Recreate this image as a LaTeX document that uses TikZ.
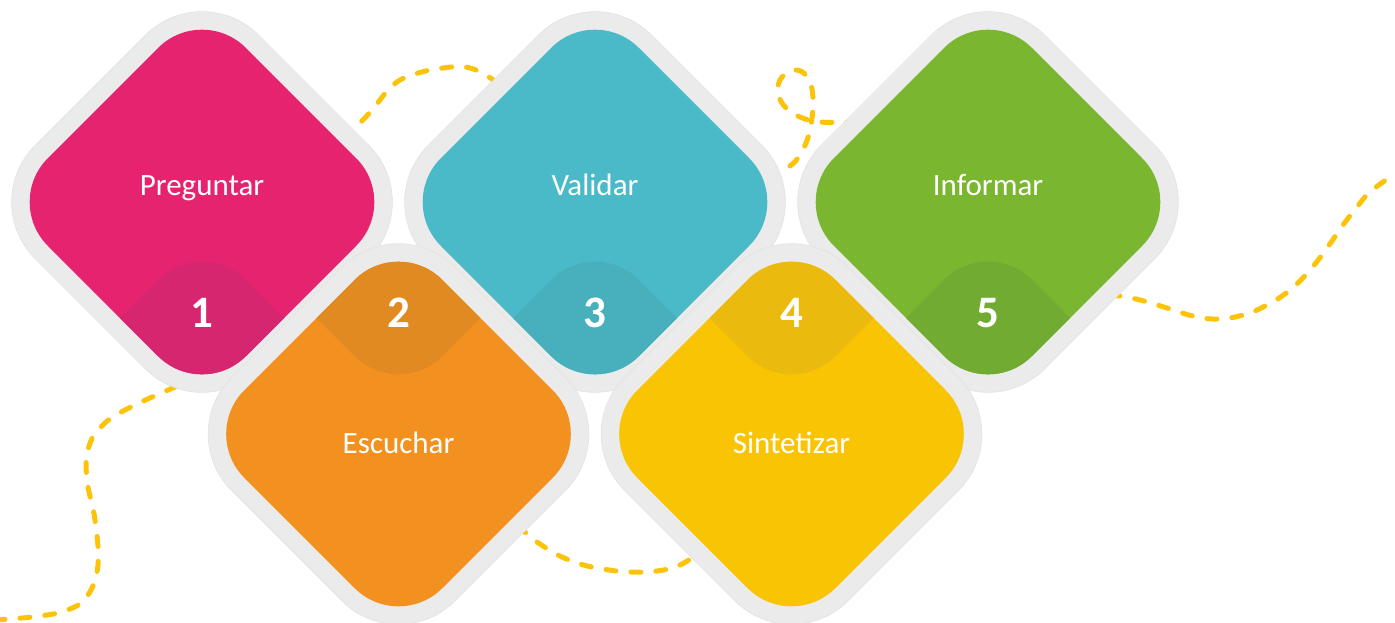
\documentclass[tikz,border=0pt]{standalone}
\usepackage{fontspec}
\setmainfont{Carlito}
\definecolor{pinkc}{HTML}{E6236F}
\definecolor{pinkd}{HTML}{D62670}
\definecolor{orangec}{HTML}{F39120}
\definecolor{oranged}{HTML}{E28A22}
\definecolor{tealc}{HTML}{4ABAC8}
\definecolor{teald}{HTML}{48B0BC}
\definecolor{yellowc}{HTML}{F9C404}
\definecolor{yellowd}{HTML}{EBBA0E}
\definecolor{greenc}{HTML}{7AB62F}
\definecolor{greend}{HTML}{72AB31}
\definecolor{haloc}{HTML}{EBEBEB}
\definecolor{haloedge}{HTML}{E2E2E2}
\definecolor{dashc}{HTML}{FBC30A}
\newcommand\rdia[3]{({#1-#3/2},{#2-#3/2}) -- ({#1},{#2-#3}) -- ({#1+#3},{#2}) -- ({#1},{#2+#3}) -- ({#1-#3},{#2}) -- cycle}
\newcommand\onedia[5]{%
  \fill[haloc, draw=haloedge, line width=0.6pt, rounded corners=80pt] \rdia{#1}{#2}{223.5};
  \fill[#3, rounded corners=62pt] \rdia{#1}{#2}{198};
  \begin{scope}
    \clip[rounded corners=62pt] \rdia{#1}{#2}{198};
    \fill[#4, rounded corners=62pt] \rdia{#1}{#5}{198};
  \end{scope}}
\begin{document}
\begin{tikzpicture}[x=1pt,y=-1pt,
  lbl/.style={text=white, font=\fontsize{31}{36}\selectfont, anchor=base, inner sep=0pt},
  num/.style={text=white, font=\bfseries\fontsize{45}{50}\selectfont, anchor=base, inner sep=0pt},
  trail/.style={draw=dashc, line width=5pt, line cap=round, dash pattern=on 10pt off 15pt}]
\useasboundingbox (0,0) rectangle (1395,622);
% dashed trails (behind the diamonds)
\draw[trail] plot[smooth, tension=0.7] coordinates {(-5,620) (40,616) (70,609) (88,595) (98,565) (95,520) (87,480) (88,450) (100,428) (125,410) (175,387)};
\draw[trail] plot[smooth, tension=0.7] coordinates {(340,133) (357,125) (372,110) (392,86) (412,75) (443,68) (470,68) (495,81) (505,90)};
\draw[trail] plot[smooth, tension=0.7] coordinates {(790,166) (798,158) (806,143) (811,125) (813,100) (809,80) (797,70) (782,77) (778,93) (786,108) (800,117) (820,122) (852,122)};
\draw[trail] plot[smooth, tension=0.7] coordinates {(518,526) (537,542) (552,552) (577,563) (603,569) (630,572) (657,571) (680,565) (698,553)};
\draw[trail] plot[smooth, tension=0.7] coordinates {(1110,296) (1120,296) (1140,300) (1167,308) (1193,316) (1217,319) (1243,315) (1267,305) (1290,290) (1310,270) (1327,248) (1343,225) (1357,207) (1370,192) (1393,175)};
% top row
\onedia{202}{202}{pinkc}{pinkd}{434}
\onedia{595}{202}{tealc}{teald}{434}
\onedia{988}{202}{greenc}{greend}{434}
% bottom row
\onedia{398.5}{434}{orangec}{oranged}{202}
\onedia{791.5}{434}{yellowc}{yellowd}{202}
% labels
\node[lbl] (t1) at (202,195) {Preguntar};
\node[lbl] (t3) at (595,195) {Validar};
\node[lbl] (t5) at (988,195) {Informar};
\node[lbl] (t2) at (398.5,453) {Escuchar};
\node[lbl] (t4) at (791.5,453) {Sintetizar};
\node[num] (n1) at (202,327) {1};
\node[num] (n2) at (398.5,327) {2};
\node[num] (n3) at (595,327) {3};
\node[num] (n4) at (791.5,327) {4};
\node[num] (n5) at (988,327) {5};
\end{tikzpicture}
\end{document}
